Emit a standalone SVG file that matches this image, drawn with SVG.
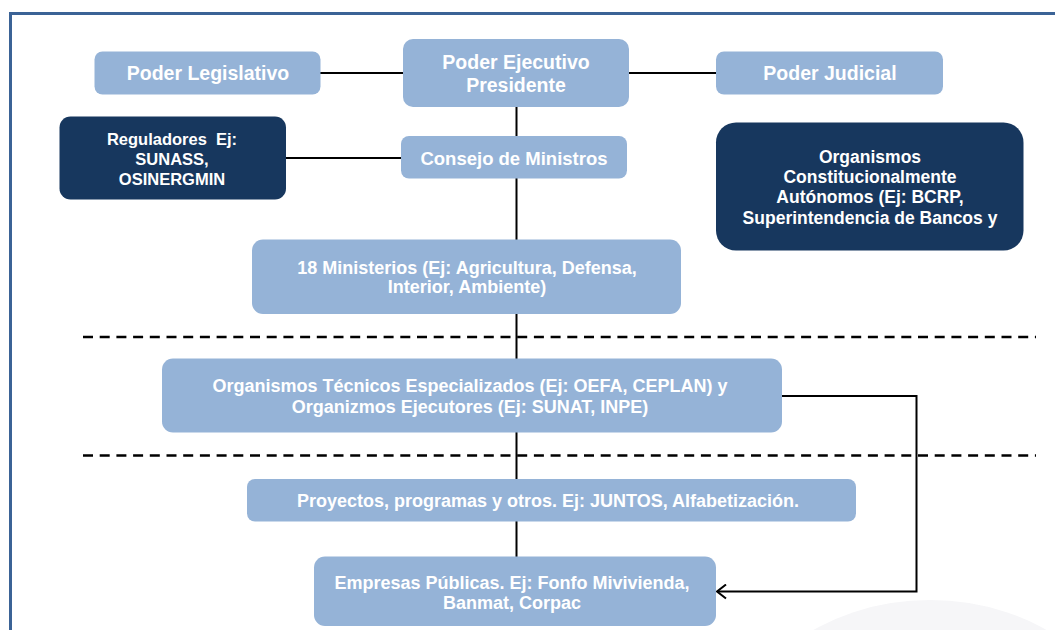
<svg xmlns="http://www.w3.org/2000/svg" width="1055" height="630" viewBox="0 0 1055 630">
<style>
.lb{fill:#95B3D7}
.dk{fill:#17375E}
.t{font-family:"Liberation Sans",Arial,sans-serif;font-weight:bold;fill:#FFFFFF;text-anchor:middle}
.c{stroke:#000;stroke-width:2;fill:none}
.d{stroke:#000;stroke-width:2.5;stroke-dasharray:10 6.7;fill:none}
</style>
<defs>
<marker id="ah" markerWidth="14" markerHeight="16" refX="11" refY="8" orient="auto" markerUnits="userSpaceOnUse">
<path d="M2,1 L11,8 L2,15" fill="none" stroke="#000" stroke-width="2"/>
</marker>
</defs>
<rect width="1055" height="630" fill="#FFFFFF"/>
<ellipse cx="930" cy="760" rx="200" ry="160" fill="#F6F6F8"/>
<path d="M10.5,630 V13.5 H1055" fill="none" stroke="#3B6396" stroke-width="3"/>
<g id="connectors">
<line class="c" x1="516.5" y1="107" x2="516.5" y2="557"/>
<line class="c" x1="320" y1="73" x2="403" y2="73"/>
<line class="c" x1="629" y1="73" x2="717" y2="73"/>
<line class="c" x1="286" y1="158" x2="401" y2="158"/>
<path class="c" d="M782,396 H916.5 V591.5 H717" marker-end="url(#ah)"/>
<line class="d" x1="83" y1="337" x2="1036" y2="337"/>
<line class="d" x1="83" y1="455.5" x2="1036" y2="455.5"/>
</g>
<g id="legislativo">
<rect class="lb" x="94.5" y="51.5" width="226" height="43" rx="8"/>
<text class="t" x="208" y="80" font-size="19.5">Poder Legislativo</text>
</g>
<g id="ejecutivo">
<rect class="lb" x="403" y="39" width="226" height="68" rx="10"/>
<text class="t" x="516" y="69" font-size="19.5">Poder Ejecutivo</text>
<text class="t" x="516" y="92" font-size="19.5">Presidente</text>
</g>
<g id="judicial">
<rect class="lb" x="716" y="51.5" width="227" height="43" rx="8"/>
<text class="t" x="830" y="80" font-size="19.5">Poder Judicial</text>
</g>
<g id="reguladores">
<rect class="dk" x="59.5" y="116.5" width="226.5" height="83" rx="11"/>
<text class="t" x="172" y="144.5" font-size="16.5" xml:space="preserve">Reguladores  Ej:</text>
<text class="t" x="172" y="165" font-size="16.5">SUNASS,</text>
<text class="t" x="172" y="184.5" font-size="16.5">OSINERGMIN</text>
</g>
<g id="consejo">
<rect class="lb" x="401" y="136" width="226" height="42.5" rx="8"/>
<text class="t" x="514" y="165" font-size="18.5">Consejo de Ministros</text>
</g>
<g id="autonomos">
<rect class="dk" x="716" y="122.5" width="307.5" height="128" rx="20"/>
<text class="t" x="870" y="162.5" font-size="17.5">Organismos</text>
<text class="t" x="870" y="183" font-size="17.5">Constitucionalmente</text>
<text class="t" x="870" y="203" font-size="17.5">Autónomos (Ej: BCRP,</text>
<text class="t" x="870" y="223.5" font-size="17.5">Superintendencia de Bancos y</text>
</g>
<g id="ministerios">
<rect class="lb" x="252" y="239.5" width="429" height="74.5" rx="11"/>
<text class="t" x="467" y="273.5" font-size="18">18 Ministerios (Ej: Agricultura, Defensa,</text>
<text class="t" x="467" y="293" font-size="18">Interior, Ambiente)</text>
</g>
<g id="tecnicos">
<rect class="lb" x="162" y="358.5" width="620" height="74" rx="11"/>
<text class="t" x="470" y="392" font-size="18">Organismos Técnicos Especializados (Ej: OEFA, CEPLAN) y</text>
<text class="t" x="470" y="412.5" font-size="18">Organizmos Ejecutores (Ej: SUNAT, INPE)</text>
</g>
<g id="proyectos">
<rect class="lb" x="247" y="479" width="609" height="42.5" rx="8"/>
<text class="t" x="548" y="507" font-size="18">Proyectos, programas y otros. Ej: JUNTOS, Alfabetización.</text>
</g>
<g id="empresas">
<rect class="lb" x="314" y="556.5" width="402" height="69.5" rx="11"/>
<text class="t" x="512" y="588.5" font-size="18">Empresas Públicas. Ej: Fonfo Mivivienda,</text>
<text class="t" x="512" y="609" font-size="18">Banmat, Corpac</text>
</g>
</svg>
